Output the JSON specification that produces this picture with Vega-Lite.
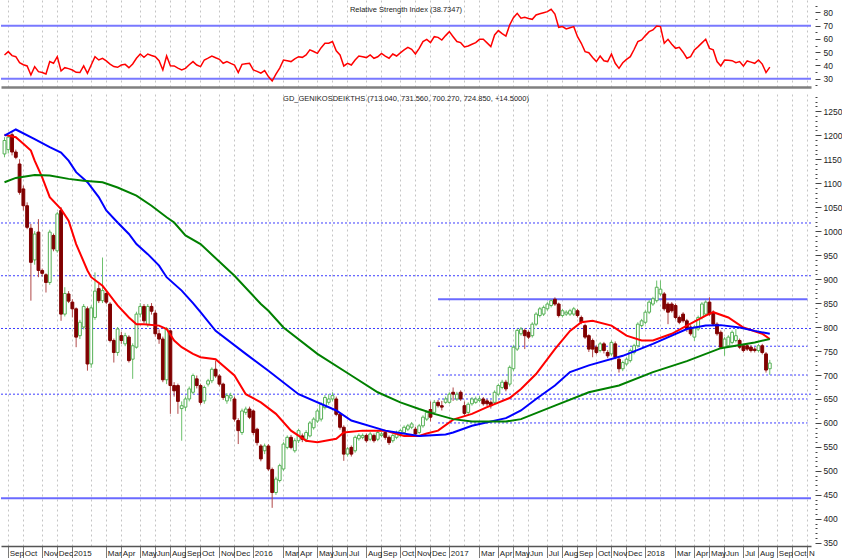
{
"$schema":"https://vega.github.io/schema/vega-lite/v6.json",
"padding":0,
"background":"#ffffff",
"spacing":2,
"config":{"view":{"stroke":null},"font":"Liberation Sans","axis":{"labelFont":"Liberation Sans","labelFontSize":8.5,"labelColor":"#222222","labelOverlap":false}},
"datasets":{
"px":[
{"d":"2014-08-29","o":1161,"h":1196,"l":1154,"c":1189,"r":47.9},
{"d":"2014-09-05","o":1170,"h":1200,"l":1162,"c":1196,"r":50.4},
{"d":"2014-09-12","o":1201,"h":1206,"l":1158,"c":1165,"r":47.4},
{"d":"2014-09-19","o":1165,"h":1170,"l":1150,"c":1154,"r":46.6},
{"d":"2014-09-26","o":1140,"h":1150,"l":1076,"c":1081,"r":42.1},
{"d":"2014-10-03","o":1088,"h":1095,"l":1043,"c":1053,"r":40.5},
{"d":"2014-10-10","o":1053,"h":1060,"l":1004,"c":1008,"r":39.6},
{"d":"2014-10-17","o":1006,"h":1015,"l":855,"c":935,"r":32.8},
{"d":"2014-10-24","o":940,"h":1000,"l":930,"c":994,"r":39.1},
{"d":"2014-10-31","o":998,"h":1025,"l":904,"c":918,"r":35.3},
{"d":"2014-11-07","o":918,"h":922,"l":905,"c":912,"r":34.6},
{"d":"2014-11-14","o":909,"h":912,"l":872,"c":893,"r":33.5},
{"d":"2014-11-21","o":893,"h":1003,"l":888,"c":998,"r":42.9},
{"d":"2014-11-28","o":991,"h":995,"l":958,"c":963,"r":41.6},
{"d":"2014-12-05","o":959,"h":1040,"l":955,"c":1036,"r":46.6},
{"d":"2014-12-12","o":1043,"h":1050,"l":813,"c":827,"r":35.8},
{"d":"2014-12-19","o":827,"h":883,"l":822,"c":870,"r":38.3},
{"d":"2014-12-26","o":869,"h":875,"l":850,"c":854,"r":37.6},
{"d":"2015-01-02","o":852,"h":858,"l":820,"c":838,"r":36.5},
{"d":"2015-01-09","o":838,"h":841,"l":758,"c":779,"r":34.8},
{"d":"2015-01-16","o":782,"h":815,"l":775,"c":810,"r":34.6},
{"d":"2015-01-23","o":800,"h":848,"l":795,"c":843,"r":39.6},
{"d":"2015-01-30","o":838,"h":843,"l":709,"c":723,"r":34.1},
{"d":"2015-02-06","o":723,"h":845,"l":715,"c":840,"r":40.3},
{"d":"2015-02-13","o":820,"h":914,"l":815,"c":875,"r":46.6},
{"d":"2015-02-20","o":880,"h":890,"l":850,"c":855,"r":44.1},
{"d":"2015-02-27","o":855,"h":945,"l":850,"c":876,"r":45.4},
{"d":"2015-03-06","o":870,"h":876,"l":848,"c":852,"r":43.4},
{"d":"2015-03-13","o":848,"h":852,"l":768,"c":772,"r":41},
{"d":"2015-03-20","o":772,"h":776,"l":726,"c":747,"r":39.1},
{"d":"2015-03-27","o":747,"h":800,"l":740,"c":796,"r":38.6},
{"d":"2015-04-03","o":782,"h":790,"l":765,"c":772,"r":40.3},
{"d":"2015-04-10","o":765,"h":788,"l":760,"c":782,"r":40.8},
{"d":"2015-04-17","o":779,"h":783,"l":726,"c":730,"r":38.3},
{"d":"2015-04-24","o":733,"h":766,"l":692,"c":761,"r":41.1},
{"d":"2015-04-30","o":758,"h":832,"l":755,"c":827,"r":45.4},
{"d":"2015-05-08","o":827,"h":850,"l":820,"c":843,"r":48.6},
{"d":"2015-05-15","o":843,"h":848,"l":808,"c":813,"r":46.1},
{"d":"2015-05-22","o":805,"h":848,"l":800,"c":843,"r":48.6},
{"d":"2015-05-29","o":843,"h":850,"l":826,"c":833,"r":47.5},
{"d":"2015-06-05","o":829,"h":835,"l":780,"c":786,"r":46.6},
{"d":"2015-06-12","o":786,"h":795,"l":765,"c":775,"r":43.6},
{"d":"2015-06-19","o":775,"h":780,"l":685,"c":690,"r":36.6},
{"d":"2015-06-26","o":690,"h":800,"l":681,"c":797,"r":47.1},
{"d":"2015-08-07","o":792,"h":795,"l":619,"c":678,"r":39.8},
{"d":"2015-08-14","o":678,"h":685,"l":655,"c":667,"r":39.6},
{"d":"2015-08-21","o":678,"h":682,"l":619,"c":645,"r":38},
{"d":"2015-08-28","o":630,"h":645,"l":563,"c":636,"r":36.6},
{"d":"2015-09-04","o":633,"h":655,"l":625,"c":650,"r":37.8},
{"d":"2015-09-11","o":650,"h":676,"l":645,"c":671,"r":40.5},
{"d":"2015-09-18","o":664,"h":703,"l":660,"c":699,"r":42.9},
{"d":"2015-09-25","o":692,"h":699,"l":672,"c":678,"r":40.3},
{"d":"2015-10-02","o":678,"h":682,"l":638,"c":643,"r":39.1},
{"d":"2015-10-09","o":646,"h":678,"l":640,"c":674,"r":44.1},
{"d":"2015-10-16","o":681,"h":692,"l":676,"c":688,"r":45.5},
{"d":"2015-10-23","o":688,"h":716,"l":683,"c":712,"r":47.1},
{"d":"2015-10-30","o":712,"h":730,"l":694,"c":698,"r":45.8},
{"d":"2015-11-06","o":698,"h":702,"l":676,"c":681,"r":44.6},
{"d":"2015-11-13","o":681,"h":684,"l":648,"c":653,"r":41.6},
{"d":"2015-11-20","o":646,"h":662,"l":640,"c":657,"r":42.9},
{"d":"2015-11-27","o":652,"h":663,"l":645,"c":657,"r":41.5},
{"d":"2015-12-04","o":650,"h":655,"l":603,"c":608,"r":40.3},
{"d":"2015-12-11","o":605,"h":610,"l":556,"c":584,"r":34.6},
{"d":"2015-12-18","o":580,"h":630,"l":575,"c":625,"r":40.8},
{"d":"2015-12-24","o":622,"h":634,"l":617,"c":629,"r":41.2},
{"d":"2015-12-31","o":629,"h":634,"l":608,"c":612,"r":41.6},
{"d":"2016-01-08","o":625,"h":628,"l":575,"c":580,"r":36.6},
{"d":"2016-01-15","o":587,"h":590,"l":553,"c":559,"r":35.5},
{"d":"2016-01-22","o":552,"h":556,"l":520,"c":525,"r":34.1},
{"d":"2016-01-29","o":542,"h":557,"l":535,"c":552,"r":36.1},
{"d":"2016-02-05","o":552,"h":556,"l":500,"c":504,"r":31.6},
{"d":"2016-02-12","o":503,"h":507,"l":423,"c":455,"r":28.2},
{"d":"2016-02-19","o":455,"h":488,"l":450,"c":483,"r":33.5},
{"d":"2016-02-26","o":480,"h":515,"l":476,"c":511,"r":38},
{"d":"2016-03-04","o":504,"h":560,"l":500,"c":556,"r":44.1},
{"d":"2016-03-11","o":549,"h":574,"l":545,"c":570,"r":43.5},
{"d":"2016-03-18","o":570,"h":575,"l":545,"c":549,"r":42.9},
{"d":"2016-03-25","o":542,"h":568,"l":538,"c":563,"r":45},
{"d":"2016-04-01","o":563,"h":588,"l":558,"c":584,"r":46.6},
{"d":"2016-04-08","o":573,"h":578,"l":560,"c":566,"r":46.1},
{"d":"2016-04-15","o":566,"h":585,"l":560,"c":580,"r":47.9},
{"d":"2016-04-22","o":573,"h":604,"l":570,"c":600,"r":51.7},
{"d":"2016-04-28","o":590,"h":612,"l":586,"c":608,"r":50.5},
{"d":"2016-05-06","o":604,"h":630,"l":600,"c":625,"r":49.1},
{"d":"2016-05-13","o":608,"h":643,"l":603,"c":639,"r":53.4},
{"d":"2016-05-20","o":632,"h":658,"l":628,"c":653,"r":56.7},
{"d":"2016-05-27","o":643,"h":660,"l":638,"c":650,"r":56.7},
{"d":"2016-06-03","o":650,"h":664,"l":645,"c":657,"r":58},
{"d":"2016-06-10","o":650,"h":655,"l":614,"c":618,"r":51},
{"d":"2016-06-17","o":618,"h":622,"l":586,"c":591,"r":47.9},
{"d":"2016-06-24","o":591,"h":595,"l":521,"c":535,"r":39.6},
{"d":"2016-07-01","o":535,"h":550,"l":530,"c":546,"r":41.6},
{"d":"2016-07-08","o":549,"h":553,"l":530,"c":535,"r":40.3},
{"d":"2016-07-15","o":542,"h":574,"l":538,"c":570,"r":44.1},
{"d":"2016-07-22","o":567,"h":578,"l":563,"c":574,"r":47.1},
{"d":"2016-07-29","o":570,"h":578,"l":566,"c":574,"r":46.5},
{"d":"2016-08-05","o":574,"h":578,"l":559,"c":563,"r":45.9},
{"d":"2016-08-12","o":566,"h":581,"l":562,"c":577,"r":47.9},
{"d":"2016-08-19","o":574,"h":578,"l":559,"c":563,"r":45.4},
{"d":"2016-08-26","o":566,"h":584,"l":562,"c":580,"r":46.5},
{"d":"2016-09-02","o":574,"h":581,"l":570,"c":577,"r":49.1},
{"d":"2016-09-09","o":580,"h":584,"l":565,"c":570,"r":47},
{"d":"2016-09-16","o":570,"h":574,"l":554,"c":559,"r":45.4},
{"d":"2016-09-23","o":563,"h":578,"l":559,"c":574,"r":48.6},
{"d":"2016-09-30","o":570,"h":584,"l":566,"c":580,"r":47.1},
{"d":"2016-10-07","o":574,"h":588,"l":570,"c":584,"r":49.5},
{"d":"2016-10-14","o":580,"h":595,"l":576,"c":591,"r":51.7},
{"d":"2016-10-21","o":587,"h":598,"l":583,"c":594,"r":53.7},
{"d":"2016-10-28","o":591,"h":602,"l":587,"c":598,"r":52.2},
{"d":"2016-11-04","o":587,"h":592,"l":573,"c":577,"r":48.6},
{"d":"2016-11-11","o":580,"h":598,"l":576,"c":594,"r":52.9},
{"d":"2016-11-18","o":594,"h":616,"l":590,"c":612,"r":58},
{"d":"2016-11-25","o":608,"h":626,"l":604,"c":622,"r":59.7},
{"d":"2016-12-02","o":628,"h":645,"l":603,"c":612,"r":57.2},
{"d":"2016-12-09","o":622,"h":648,"l":618,"c":643,"r":61.7},
{"d":"2016-12-16","o":643,"h":648,"l":632,"c":636,"r":61.2},
{"d":"2016-12-23","o":636,"h":646,"l":626,"c":633,"r":59.2},
{"d":"2016-12-30","o":643,"h":655,"l":640,"c":650,"r":62.5},
{"d":"2017-01-06","o":643,"h":664,"l":640,"c":660,"r":65.5},
{"d":"2017-01-13","o":664,"h":674,"l":646,"c":660,"r":61.7},
{"d":"2017-01-20","o":650,"h":665,"l":646,"c":660,"r":58},
{"d":"2017-01-27","o":664,"h":668,"l":646,"c":650,"r":57.2},
{"d":"2017-02-03","o":636,"h":645,"l":615,"c":620,"r":54},
{"d":"2017-02-10","o":622,"h":643,"l":618,"c":639,"r":54.7},
{"d":"2017-02-17","o":640,"h":654,"l":636,"c":650,"r":56},
{"d":"2017-02-24","o":643,"h":655,"l":640,"c":650,"r":57.2},
{"d":"2017-03-03","o":647,"h":656,"l":643,"c":650,"r":59.7},
{"d":"2017-03-10","o":650,"h":654,"l":636,"c":640,"r":59.7},
{"d":"2017-03-17","o":646,"h":650,"l":635,"c":640,"r":57},
{"d":"2017-03-24","o":643,"h":647,"l":630,"c":636,"r":54.2},
{"d":"2017-03-31","o":643,"h":668,"l":638,"c":664,"r":63},
{"d":"2017-04-07","o":660,"h":682,"l":656,"c":678,"r":66.3},
{"d":"2017-04-14","o":674,"h":690,"l":670,"c":685,"r":64},
{"d":"2017-04-21","o":685,"h":690,"l":666,"c":671,"r":62.2},
{"d":"2017-04-28","o":681,"h":720,"l":676,"c":716,"r":70.5},
{"d":"2017-05-05","o":713,"h":762,"l":708,"c":758,"r":76},
{"d":"2017-05-12","o":754,"h":797,"l":750,"c":793,"r":79.3},
{"d":"2017-05-19","o":786,"h":800,"l":782,"c":796,"r":75.6},
{"d":"2017-05-26","o":793,"h":797,"l":754,"c":782,"r":76.3},
{"d":"2017-06-02","o":789,"h":793,"l":775,"c":779,"r":75.5},
{"d":"2017-06-09","o":782,"h":810,"l":778,"c":806,"r":74.8},
{"d":"2017-06-16","o":806,"h":831,"l":802,"c":827,"r":78.1},
{"d":"2017-06-23","o":824,"h":842,"l":820,"c":838,"r":79},
{"d":"2017-06-30","o":827,"h":845,"l":823,"c":841,"r":79.8},
{"d":"2017-07-07","o":838,"h":852,"l":834,"c":848,"r":80.6},
{"d":"2017-07-14","o":845,"h":858,"l":841,"c":855,"r":82.4},
{"d":"2017-07-21","o":858,"h":862,"l":844,"c":848,"r":78.8},
{"d":"2017-07-28","o":848,"h":851,"l":820,"c":824,"r":68.8},
{"d":"2017-08-04","o":824,"h":838,"l":820,"c":834,"r":69.3},
{"d":"2017-08-11","o":827,"h":835,"l":823,"c":831,"r":67.5},
{"d":"2017-08-18","o":827,"h":838,"l":823,"c":834,"r":68.5},
{"d":"2017-08-25","o":827,"h":842,"l":823,"c":838,"r":69.3},
{"d":"2017-09-01","o":834,"h":838,"l":820,"c":824,"r":61.7},
{"d":"2017-09-08","o":820,"h":824,"l":806,"c":810,"r":56.7},
{"d":"2017-09-15","o":803,"h":807,"l":775,"c":779,"r":50.4},
{"d":"2017-09-22","o":782,"h":785,"l":748,"c":754,"r":49.6},
{"d":"2017-09-29","o":772,"h":776,"l":737,"c":754,"r":46},
{"d":"2017-10-06","o":758,"h":762,"l":743,"c":747,"r":42.9},
{"d":"2017-10-13","o":751,"h":769,"l":747,"c":765,"r":47.1},
{"d":"2017-10-20","o":765,"h":769,"l":745,"c":751,"r":43.5},
{"d":"2017-10-27","o":747,"h":752,"l":735,"c":740,"r":42.9},
{"d":"2017-11-03","o":744,"h":772,"l":740,"c":768,"r":48.6},
{"d":"2017-11-10","o":765,"h":770,"l":733,"c":737,"r":41.6},
{"d":"2017-11-17","o":733,"h":737,"l":705,"c":713,"r":37.8},
{"d":"2017-11-24","o":713,"h":730,"l":708,"c":726,"r":42},
{"d":"2017-12-01","o":723,"h":737,"l":719,"c":733,"r":44.6},
{"d":"2017-12-08","o":730,"h":755,"l":726,"c":751,"r":46.6},
{"d":"2017-12-15","o":747,"h":765,"l":743,"c":761,"r":52},
{"d":"2017-12-22","o":761,"h":810,"l":757,"c":806,"r":58},
{"d":"2017-12-29","o":803,"h":817,"l":799,"c":813,"r":59.2},
{"d":"2018-01-05","o":810,"h":835,"l":806,"c":831,"r":62.5},
{"d":"2018-01-12","o":831,"h":856,"l":827,"c":852,"r":65.5},
{"d":"2018-01-19","o":848,"h":863,"l":844,"c":859,"r":66.8},
{"d":"2018-01-26","o":855,"h":897,"l":851,"c":883,"r":69.8},
{"d":"2018-02-02","o":869,"h":897,"l":865,"c":879,"r":69.3},
{"d":"2018-02-09","o":869,"h":873,"l":834,"c":838,"r":56.7},
{"d":"2018-02-16","o":848,"h":852,"l":806,"c":831,"r":59.7},
{"d":"2018-02-23","o":848,"h":852,"l":830,"c":834,"r":56},
{"d":"2018-03-02","o":845,"h":849,"l":816,"c":820,"r":52.9},
{"d":"2018-03-09","o":820,"h":824,"l":806,"c":810,"r":53.7},
{"d":"2018-03-16","o":827,"h":831,"l":809,"c":813,"r":50},
{"d":"2018-03-23","o":813,"h":817,"l":790,"c":796,"r":45.4},
{"d":"2018-03-30","o":800,"h":804,"l":782,"c":786,"r":46.6},
{"d":"2018-04-06","o":779,"h":804,"l":771,"c":800,"r":51.7},
{"d":"2018-04-13","o":796,"h":824,"l":792,"c":820,"r":54.2},
{"d":"2018-04-20","o":820,"h":852,"l":816,"c":848,"r":57},
{"d":"2018-04-27","o":827,"h":856,"l":823,"c":852,"r":59.7},
{"d":"2018-05-04","o":852,"h":862,"l":823,"c":827,"r":52.9},
{"d":"2018-05-11","o":831,"h":835,"l":802,"c":806,"r":51.7},
{"d":"2018-05-18","o":806,"h":810,"l":782,"c":786,"r":42.9},
{"d":"2018-05-25","o":789,"h":793,"l":754,"c":758,"r":39.6},
{"d":"2018-06-01","o":758,"h":779,"l":740,"c":775,"r":44.1},
{"d":"2018-06-08","o":761,"h":783,"l":757,"c":779,"r":43.9},
{"d":"2018-06-15","o":768,"h":793,"l":764,"c":789,"r":43.6},
{"d":"2018-06-22","o":772,"h":796,"l":768,"c":782,"r":42.1},
{"d":"2018-06-29","o":772,"h":776,"l":754,"c":758,"r":42.9},
{"d":"2018-07-06","o":761,"h":765,"l":747,"c":751,"r":39.6},
{"d":"2018-07-13","o":761,"h":765,"l":750,"c":754,"r":43.4},
{"d":"2018-07-20","o":758,"h":762,"l":747,"c":751,"r":42.5},
{"d":"2018-07-27","o":754,"h":758,"l":747,"c":751,"r":41.6},
{"d":"2018-08-03","o":751,"h":765,"l":747,"c":761,"r":44.1},
{"d":"2018-08-10","o":761,"h":765,"l":743,"c":747,"r":41},
{"d":"2018-08-17","o":744,"h":748,"l":705,"c":710.35,"r":34.6},
{"d":"2018-08-24","o":713.04,"h":731.56,"l":700.27,"c":724.85,"r":38.7347},
{"d":"2018-08-31"},{"d":"2018-09-07"},{"d":"2018-09-14"},{"d":"2018-09-21"},{"d":"2018-09-28"},
{"d":"2018-10-05"},{"d":"2018-10-12"},{"d":"2018-10-19"},{"d":"2018-10-26"},{"d":"2018-11-02"}
],
"ma":[
{"d":"2014-08-29","s":"r","v":1201},{"d":"2014-09-19","s":"r","v":1196},{"d":"2014-10-03","s":"r","v":1182},{"d":"2014-10-17","s":"r","v":1168},{"d":"2014-10-24","s":"r","v":1147},{"d":"2014-11-07","s":"r","v":1112},{"d":"2014-11-21","s":"r","v":1071},{"d":"2014-12-12","s":"r","v":1046},{"d":"2014-12-26","s":"r","v":1022},{"d":"2015-01-09","s":"r","v":973},{"d":"2015-01-30","s":"r","v":918},{"d":"2015-02-06","s":"r","v":904},{"d":"2015-02-27","s":"r","v":886},{"d":"2015-03-06","s":"r","v":876},{"d":"2015-03-27","s":"r","v":845},{"d":"2015-04-17","s":"r","v":820},{"d":"2015-04-30","s":"r","v":806},{"d":"2015-05-15","s":"r","v":806},{"d":"2015-06-12","s":"r","v":803},{"d":"2015-06-26","s":"r","v":796},{"d":"2015-08-14","s":"r","v":772},{"d":"2015-08-28","s":"r","v":758},{"d":"2015-09-18","s":"r","v":744},{"d":"2015-10-02","s":"r","v":737},{"d":"2015-10-30","s":"r","v":733},{"d":"2015-12-04","s":"r","v":699},{"d":"2015-12-24","s":"r","v":660},{"d":"2016-01-22","s":"r","v":643},{"d":"2016-02-19","s":"r","v":619},{"d":"2016-03-18","s":"r","v":584},{"d":"2016-04-15","s":"r","v":563},{"d":"2016-05-06","s":"r","v":560},{"d":"2016-06-10","s":"r","v":567},{"d":"2016-06-24","s":"r","v":580},{"d":"2016-07-29","s":"r","v":584},{"d":"2016-09-09","s":"r","v":584},{"d":"2016-10-14","s":"r","v":573},{"d":"2016-11-11","s":"r","v":573},{"d":"2016-11-25","s":"r","v":578},{"d":"2016-12-16","s":"r","v":584},{"d":"2017-01-13","s":"r","v":607},{"d":"2017-02-17","s":"r","v":619},{"d":"2017-03-17","s":"r","v":633},{"d":"2017-04-28","s":"r","v":652},{"d":"2017-05-19","s":"r","v":671},{"d":"2017-06-16","s":"r","v":702},{"d":"2017-07-21","s":"r","v":754},{"d":"2017-08-18","s":"r","v":792},{"d":"2017-09-08","s":"r","v":810},{"d":"2017-09-29","s":"r","v":813},{"d":"2017-11-03","s":"r","v":803},{"d":"2017-12-01","s":"r","v":782},{"d":"2017-12-29","s":"r","v":772},{"d":"2018-01-19","s":"r","v":772},{"d":"2018-02-23","s":"r","v":786},{"d":"2018-03-23","s":"r","v":803},{"d":"2018-04-27","s":"r","v":824},{"d":"2018-05-11","s":"r","v":831},{"d":"2018-06-08","s":"r","v":820},{"d":"2018-07-06","s":"r","v":799},{"d":"2018-08-10","s":"r","v":786},{"d":"2018-08-24","s":"r","v":775},
{"d":"2014-08-29","s":"b","v":1199},{"d":"2014-09-19","s":"b","v":1212},{"d":"2014-10-24","s":"b","v":1192},{"d":"2014-11-21","s":"b","v":1175},{"d":"2014-12-12","s":"b","v":1164},{"d":"2014-12-26","s":"b","v":1147},{"d":"2015-01-09","s":"b","v":1123},{"d":"2015-01-30","s":"b","v":1102},{"d":"2015-02-20","s":"b","v":1071},{"d":"2015-03-06","s":"b","v":1043},{"d":"2015-03-27","s":"b","v":1018},{"d":"2015-04-17","s":"b","v":994},{"d":"2015-04-30","s":"b","v":973},{"d":"2015-05-22","s":"b","v":952},{"d":"2015-06-12","s":"b","v":928},{"d":"2015-06-26","s":"b","v":904},{"d":"2015-08-28","s":"b","v":876},{"d":"2015-09-18","s":"b","v":850},{"d":"2015-10-02","s":"b","v":831},{"d":"2015-10-30","s":"b","v":792},{"d":"2015-12-24","s":"b","v":744},{"d":"2016-02-05","s":"b","v":709},{"d":"2016-04-01","s":"b","v":660},{"d":"2016-06-10","s":"b","v":626},{"d":"2016-07-08","s":"b","v":605},{"d":"2016-09-09","s":"b","v":584},{"d":"2016-11-11","s":"b","v":573},{"d":"2016-12-30","s":"b","v":576},{"d":"2017-01-13","s":"b","v":580},{"d":"2017-02-17","s":"b","v":594},{"d":"2017-04-21","s":"b","v":610},{"d":"2017-05-19","s":"b","v":626},{"d":"2017-06-16","s":"b","v":650},{"d":"2017-07-21","s":"b","v":678},{"d":"2017-08-18","s":"b","v":706},{"d":"2017-09-22","s":"b","v":720},{"d":"2017-11-24","s":"b","v":740},{"d":"2018-01-19","s":"b","v":765},{"d":"2018-02-23","s":"b","v":782},{"d":"2018-03-23","s":"b","v":796},{"d":"2018-04-27","s":"b","v":803},{"d":"2018-05-25","s":"b","v":804},{"d":"2018-06-29","s":"b","v":799},{"d":"2018-07-27","s":"b","v":792},{"d":"2018-08-24","s":"b","v":786},
{"d":"2014-08-29","s":"g","v":1102},{"d":"2014-09-19","s":"g","v":1111},{"d":"2014-10-24","s":"g","v":1117},{"d":"2014-11-21","s":"g","v":1116},{"d":"2014-12-26","s":"g","v":1109},{"d":"2015-01-23","s":"g","v":1105},{"d":"2015-02-27","s":"g","v":1102},{"d":"2015-03-27","s":"g","v":1091},{"d":"2015-04-30","s":"g","v":1074},{"d":"2015-05-29","s":"g","v":1053},{"d":"2015-06-26","s":"g","v":1029},{"d":"2015-08-14","s":"g","v":1018},{"d":"2015-09-04","s":"g","v":991},{"d":"2015-10-02","s":"g","v":973},{"d":"2015-12-04","s":"g","v":907},{"d":"2016-01-22","s":"g","v":848},{"d":"2016-02-05","s":"g","v":834},{"d":"2016-03-04","s":"g","v":799},{"d":"2016-05-06","s":"g","v":744},{"d":"2016-07-08","s":"g","v":699},{"d":"2016-08-26","s":"g","v":664},{"d":"2016-10-07","s":"g","v":643},{"d":"2016-11-11","s":"g","v":629},{"d":"2016-12-09","s":"g","v":619},{"d":"2017-01-13","s":"g","v":608},{"d":"2017-02-17","s":"g","v":603},{"d":"2017-04-21","s":"g","v":603},{"d":"2017-05-19","s":"g","v":608},{"d":"2017-07-21","s":"g","v":636},{"d":"2017-09-22","s":"g","v":664},{"d":"2017-11-17","s":"g","v":678},{"d":"2018-01-19","s":"g","v":706},{"d":"2018-03-23","s":"g","v":729},{"d":"2018-05-25","s":"g","v":756},{"d":"2018-07-27","s":"g","v":768},{"d":"2018-08-24","s":"g","v":775}
],
"lvDot":[{"v":1017},{"v":907},{"v":797},{"v":660}],
"lvSolid":[{"v":443}],
"lvPDot":[{"v":760,"d0":"2016-12-16","d1":"2018-11-02"},{"v":700,"d0":"2016-12-16","d1":"2018-11-02"},{"v":650,"d0":"2016-12-16","d1":"2018-11-02"},{"v":600,"d0":"2016-12-16","d1":"2018-11-02"}],
"lvPSolid":[{"v":858,"d0":"2016-12-16","d1":"2018-11-02"}],
"rsiLv":[{"v":70},{"v":30}]
},
"resolve":{"scale":{"x":"shared"}},
"vconcat":[
{
"width":810,"height":87,
"title":{"text":"Relative Strength Index (38.7347)","offset":-13,"fontSize":7.5,"fontWeight":"normal","color":"#222222","anchor":"middle","frame":"group","font":"Liberation Sans"},
"layer":[
{"data":{"name":"px"},"mark":{"type":"rule","opacity":0},
"encoding":{"x":{"field":"d","type":"ordinal","title":null,"scale":{"type":"band","paddingInner":0,"paddingOuter":0.43},
"axis":{"values":["2014-09-05","2014-10-03","2014-11-07","2014-12-05","2015-01-02","2015-02-06","2015-03-06","2015-04-03","2015-05-08","2015-06-05","2015-08-07","2015-09-04","2015-10-02","2015-11-06","2015-12-04","2016-01-08","2016-02-05","2016-03-04","2016-04-01","2016-05-06","2016-06-03","2016-07-01","2016-08-05","2016-09-02","2016-10-07","2016-11-04","2016-12-02","2017-01-06","2017-02-03","2017-03-03","2017-04-07","2017-05-05","2017-06-02","2017-07-07","2017-08-04","2017-09-01","2017-10-06","2017-11-03","2017-12-01","2018-01-05","2018-02-02","2018-03-02","2018-04-06","2018-05-04","2018-06-01","2018-07-06","2018-08-03","2018-09-07","2018-10-05","2018-11-02"],
"bandPosition":0.5,"grid":true,"gridColor":"#c4c4c4","gridDash":[2,3],"gridWidth":1,"domain":true,"domainColor":"#808080","domainWidth":2.5,"ticks":false,"labels":false,"title":null}}}},
{"data":{"name":"rsiLv"},"mark":{"type":"rule","color":"#7878ff","strokeWidth":2},
"encoding":{"y":{"field":"v","type":"quantitative","title":null,"scale":{"domain":[23.7,89.4],"nice":false,"zero":false},
"axis":{"orient":"right","values":[25,30,35,40,45,50,55,60,65,70,75,80,85],"tickCount":200,"format":"d","labelExpr":"datum.value % 10 == 0 ? datum.label : ''","tickSize":{"condition":{"test":"datum.value % 10 == 0","value":5},"value":2},"tickColor":"#444444","domain":false,"grid":false,"offset":4,"labelPadding":3,"labelOverlap":false,"labelFontSize":8.5,"labelColor":"#222222","title":null}}}},
{"data":{"name":"px"},"mark":{"type":"line","color":"#ff0000","strokeWidth":1.5},
"encoding":{"x":{"field":"d","type":"ordinal","title":null},"y":{"field":"r","type":"quantitative","title":null}}}
]
},
{
"width":810,"height":452,
"title":{"text":"GD_GENIKOSDEIKTHS (713.040, 731.560, 700.270, 724.850, +14.5000)","offset":-10,"fontSize":7.5,"fontWeight":"normal","color":"#222222","anchor":"middle","frame":"group","font":"Liberation Sans"},
"layer":[
{"data":{"name":"px"},"mark":{"type":"rule","opacity":0},
"encoding":{"x":{"field":"d","type":"ordinal","title":null,"scale":{"type":"band","paddingInner":0,"paddingOuter":0.43},
"axis":{"values":["2014-09-05","2014-10-03","2014-11-07","2014-12-05","2015-01-02","2015-02-06","2015-03-06","2015-04-03","2015-05-08","2015-06-05","2015-08-07","2015-09-04","2015-10-02","2015-11-06","2015-12-04","2016-01-08","2016-02-05","2016-03-04","2016-04-01","2016-05-06","2016-06-03","2016-07-01","2016-08-05","2016-09-02","2016-10-07","2016-11-04","2016-12-02","2017-01-06","2017-02-03","2017-03-03","2017-04-07","2017-05-05","2017-06-02","2017-07-07","2017-08-04","2017-09-01","2017-10-06","2017-11-03","2017-12-01","2018-01-05","2018-02-02","2018-03-02","2018-04-06","2018-05-04","2018-06-01","2018-07-06","2018-08-03","2018-09-07","2018-10-05","2018-11-02"],
"bandPosition":0.5,"grid":true,"gridColor":"#c4c4c4","gridDash":[2,3],"gridWidth":1,"domain":true,"domainColor":"#555555","domainWidth":1.5,"ticks":true,"tickSize":15,"tickColor":"#7a7a7a","tickWidth":1,
"tickOpacity":{"condition":{"test":"utcmonth(toDate(datum.value)) == 1","value":0},"value":1},
"labelExpr":"datum.value == '2018-11-02' ? 'N' : (utcmonth(toDate(datum.value)) == 0 ? utcFormat(toDate(datum.value), '%Y') : (utcmonth(toDate(datum.value)) == 1 ? '' : utcFormat(toDate(datum.value), '%b')))",
"labelAlign":"left","labelBaseline":"top","labelPadding":-12,"labelOffset":1.5,"labelAngle":0,"labelFontSize":8,"labelFont":"Liberation Sans","labelColor":"#222222","labelOverlap":false,"labelBound":false,"labelFlush":false,"title":null}}}},
{"data":{"name":"lvDot"},"mark":{"type":"rule","color":"#3c3cff","strokeWidth":1,"strokeDash":[2,2]},
"encoding":{"y":{"field":"v","type":"quantitative","title":null,"scale":{"domain":[343.4,1286],"nice":false,"zero":false},
"axis":{"orient":"right","values":[350,360,370,380,390,400,410,420,430,440,450,460,470,480,490,500,510,520,530,540,550,560,570,580,590,600,610,620,630,640,650,660,670,680,690,700,710,720,730,740,750,760,770,780,790,800,810,820,830,840,850,860,870,880,890,900,910,920,930,940,950,960,970,980,990,1000,1010,1020,1030,1040,1050,1060,1070,1080,1090,1100,1110,1120,1130,1140,1150,1160,1170,1180,1190,1200,1210,1220,1230,1240,1250,1260,1270,1280],"tickCount":200,
"format":"d","labelExpr":"datum.value % 50 == 0 ? datum.label : ''","tickSize":{"condition":{"test":"datum.value % 50 == 0","value":6},"value":2},"tickColor":"#444444","domain":false,"grid":false,"offset":4,"labelPadding":2,"labelOverlap":false,"labelFontSize":8.5,"labelColor":"#222222","title":null}}}},
{"data":{"name":"lvSolid"},"mark":{"type":"rule","color":"#6a6aff","strokeWidth":2},
"encoding":{"y":{"field":"v","type":"quantitative","title":null}}},
{"data":{"name":"lvPDot"},"mark":{"type":"rule","color":"#3c3cff","strokeWidth":1,"strokeDash":[2,2]},
"encoding":{"x":{"field":"d0","type":"ordinal","title":null},"x2":{"field":"d1"},"y":{"field":"v","type":"quantitative","title":null}}},
{"data":{"name":"lvPSolid"},"mark":{"type":"rule","color":"#6a6aff","strokeWidth":2},
"encoding":{"x":{"field":"d0","type":"ordinal","title":null},"x2":{"field":"d1"},"y":{"field":"v","type":"quantitative","title":null}}},
{"data":{"name":"px"},"mark":{"type":"rule","strokeWidth":1},
"encoding":{"x":{"field":"d","type":"ordinal","title":null},"y":{"field":"l","type":"quantitative","title":null},"y2":{"field":"h"},
"color":{"condition":{"test":"datum.c >= datum.o","value":"#6cc06c"},"value":"#b04848"}}},
{"data":{"name":"px"},"mark":{"type":"bar","width":{"band":0.75},"strokeWidth":1},
"encoding":{"x":{"field":"d","type":"ordinal","title":null},"y":{"field":"o","type":"quantitative","title":null},"y2":{"field":"c"},
"fill":{"condition":{"test":"datum.c >= datum.o","value":"#ffffff"},"value":"#800000"},
"stroke":{"condition":{"test":"datum.c >= datum.o","value":"#55b055"},"value":"#800000"}}},
{"data":{"name":"ma"},"mark":{"type":"line","strokeWidth":2},
"encoding":{"x":{"field":"d","type":"ordinal","title":null},"y":{"field":"v","type":"quantitative","title":null},
"color":{"field":"s","type":"nominal","legend":null,"scale":{"domain":["r","b","g"],"range":["#ff0000","#0000ff","#008000"]}}}}
]
}
]
}
